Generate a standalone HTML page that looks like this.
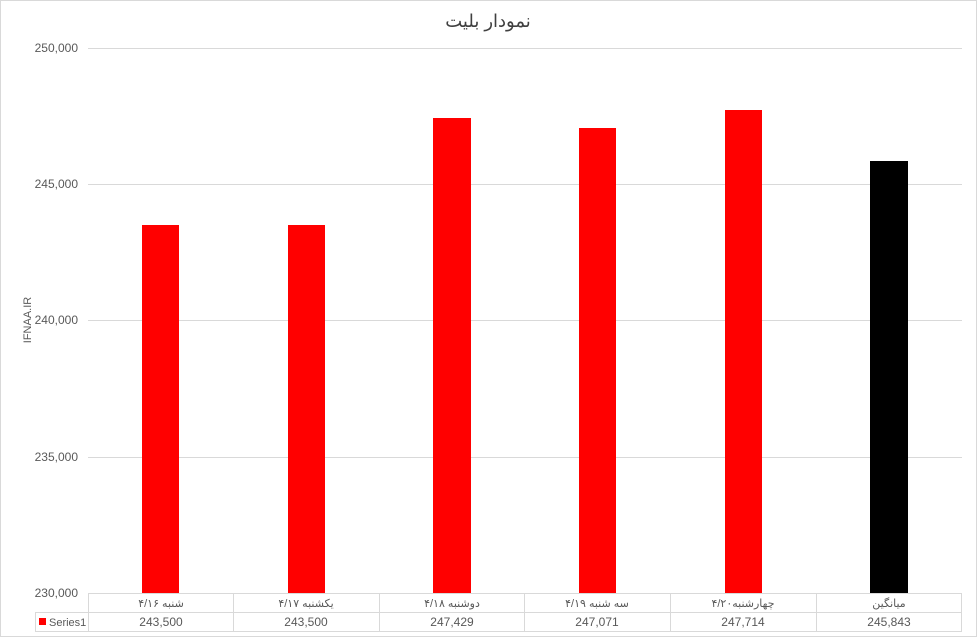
<!DOCTYPE html>
<html><head><meta charset="utf-8"><style>
body{margin:0;background:#fff}
svg text{font-family:"Liberation Sans","DejaVu Sans",sans-serif;fill:#595959}
</style></head><body>
<svg width="977" height="638" xmlns="http://www.w3.org/2000/svg">
<rect x="0.5" y="0.5" width="976" height="636" fill="#fff" stroke="#d9d9d9"/>
<text x="488" y="27" font-size="18" text-anchor="middle" fill="#404040" style="fill:#404040">نمودار بلیت</text>
<g stroke="#d9d9d9" stroke-width="1">
<line x1="88" x2="962" y1="48.5" y2="48.5"/>
<line x1="88" x2="962" y1="184.5" y2="184.5"/>
<line x1="88" x2="962" y1="320.5" y2="320.5"/>
<line x1="88" x2="962" y1="457.5" y2="457.5"/>
</g>
<g font-size="12" text-anchor="end">
<text x="78" y="52">250,000</text>
<text x="78" y="188">245,000</text>
<text x="78" y="324">240,000</text>
<text x="78" y="461">235,000</text>
<text x="78" y="597">230,000</text>
</g>
<text transform="translate(31,320) rotate(-90)" font-size="11" text-anchor="middle">IFNAA.IR</text>
<g fill="#ff0000">
<rect x="142" y="225" width="37" height="368"/>
<rect x="288" y="225" width="37" height="368"/>
<rect x="433" y="118" width="38" height="475"/>
<rect x="579" y="128" width="37" height="465"/>
<rect x="725" y="110" width="37" height="483"/>
</g>
<rect x="870" y="161" width="38" height="432" fill="#000"/>
<g stroke="#d9d9d9" stroke-width="1" fill="none">
<line x1="88" x2="962" y1="593.5" y2="593.5"/>
<line x1="35" x2="962" y1="612.5" y2="612.5"/>
<line x1="35" x2="962" y1="631.5" y2="631.5"/>
<line x1="35.5" x2="35.5" y1="612" y2="632"/>
<line x1="88.5" x2="88.5" y1="593" y2="632"/>
<line x1="233.5" x2="233.5" y1="593" y2="632"/>
<line x1="379.5" x2="379.5" y1="593" y2="632"/>
<line x1="524.5" x2="524.5" y1="593" y2="632"/>
<line x1="670.5" x2="670.5" y1="593" y2="632"/>
<line x1="816.5" x2="816.5" y1="593" y2="632"/>
<line x1="961.5" x2="961.5" y1="593" y2="632"/>
</g>
<g font-size="11" text-anchor="middle">
<text x="161" y="607">شنبه ۴/۱۶</text>
<text x="306" y="607">یکشنبه ۴/۱۷</text>
<text x="452" y="607">دوشنبه ۴/۱۸</text>
<text x="597" y="607">سه شنبه ۴/۱۹</text>
<text x="743" y="607">چهارشنبه۴/۲۰</text>
<text x="889" y="607">میانگین</text>
</g>
<g font-size="12" text-anchor="middle">
<text x="161" y="626">243,500</text>
<text x="306" y="626">243,500</text>
<text x="452" y="626">247,429</text>
<text x="597" y="626">247,071</text>
<text x="743" y="626">247,714</text>
<text x="889" y="626">245,843</text>
</g>
<rect x="39" y="618" width="7" height="7" fill="#ff0000"/>
<text x="49" y="626" font-size="11">Series1</text>
</svg>
</body></html>
